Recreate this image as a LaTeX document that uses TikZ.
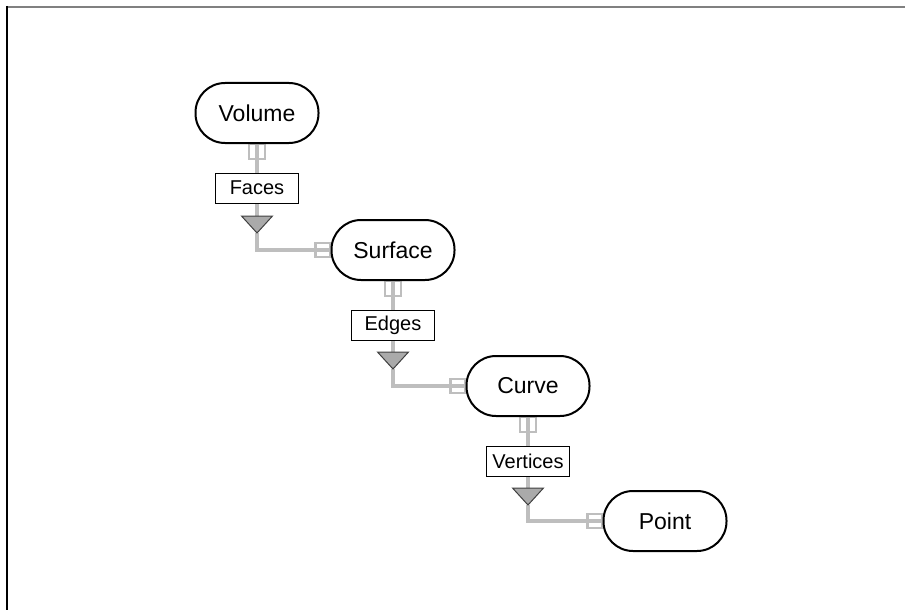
\documentclass[tikz,border=0pt]{standalone}
\usepackage{fontspec}
\setmainfont{Liberation Sans}
\usetikzlibrary{calc,backgrounds}
\definecolor{connc}{RGB}{190,190,190}
\definecolor{trifc}{RGB}{170,170,170}
\definecolor{tridc}{RGB}{64,64,64}
\definecolor{framec}{RGB}{128,128,128}
\tikzset{
  ent/.style={draw=black, line width=2pt, fill=white, rounded corners=29.5pt,
    minimum width=123pt, minimum height=60pt, inner sep=0pt,
    font=\fontsize{23}{27}\selectfont},
  rel/.style={draw=black, line width=1pt, fill=white,
    minimum width=83pt, minimum height=30pt, inner sep=0pt,
    font=\fontsize{20}{24}\selectfont},
  conn/.style={draw=connc, line width=3.5pt},
  fork/.style={draw=connc, line width=2.8pt},
  trimark/.style={fill=trifc, draw=tridc, line width=1pt, line join=miter}
}
\begin{document}
\begin{tikzpicture}[x=1pt,y=-1pt]
\useasboundingbox (0,0) rectangle (905,610);
\draw[framec, line width=2pt] (7,7) -- (905,7);
\draw[black, line width=1.5pt] (7,6) -- (7,610);

% positions
\coordinate (t1) at (257,216); \coordinate (t1a) at (257,233);
\coordinate (t2) at (393,352); \coordinate (t2a) at (393,369);
\coordinate (t3) at (528,488); \coordinate (t3a) at (528,505);

% entity nodes
\node[ent] (volume) at (257,113) {Volume};
\node[ent] (surface) at (393,250) {Surface};
\node[ent] (curve) at (528,386) {Curve};
\node[ent] (point) at (665,521) {Point};

\begin{scope}[on background layer]
% connectors
\draw[conn] (volume.south) -- (t1);
\draw[conn] (t1a) |- (surface.west);
\draw[conn] (surface.south) -- (t2);
\draw[conn] (t2a) |- (curve.west);
\draw[conn] (curve.south) -- (t3);
\draw[conn] (t3a) |- (point.west);
% fork marks
\draw[fork] ($(volume.south)+(-8,0)$) rectangle ++(16,15);
\draw[fork] ($(surface.south)+(-8,0)$) rectangle ++(16,15);
\draw[fork] ($(curve.south)+(-8,0)$) rectangle ++(16,15);
\draw[fork] ($(surface.west)+(-15,-7)$) rectangle ++(15,14);
\draw[fork] ($(curve.west)+(-15,-7)$) rectangle ++(15,14);
\draw[fork] ($(point.west)+(-15,-7)$) rectangle ++(15,14);
\end{scope}

% relation labels
\node[rel] (faces) at (257,188) {Faces};
\node[rel] (edges) at (393,325) {Edges};
\node[rel] (vertices) at (528,461) {Vertices};

% triangles
\draw[trimark] ($(t1)+(-15.5,0)$) -- ($(t1)+(15.5,0)$) -- (t1a) -- cycle;
\draw[trimark] ($(t2)+(-15.5,0)$) -- ($(t2)+(15.5,0)$) -- (t2a) -- cycle;
\draw[trimark] ($(t3)+(-15.5,0)$) -- ($(t3)+(15.5,0)$) -- (t3a) -- cycle;
\end{tikzpicture}
\end{document}
